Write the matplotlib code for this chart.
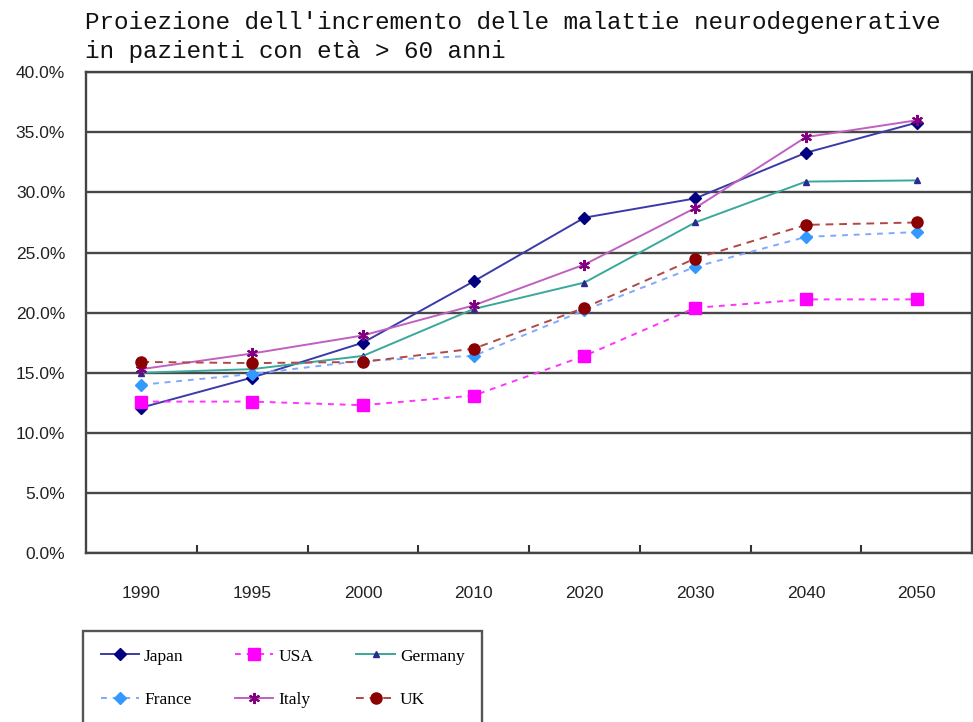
import matplotlib.pyplot as plt
from matplotlib.ticker import FixedLocator, PercentFormatter

years = ['1990', '1995', '2000', '2010', '2020', '2030', '2040', '2050']

japan = [12.1, 14.6, 17.5, 22.6, 27.9, 29.5, 33.3, 35.8]
usa = [12.6, 12.6, 12.3, 13.1, 16.4, 20.4, 21.1, 21.1]
germany = [15.0, 15.3, 16.4, 20.3, 22.5, 27.5, 30.9, 31.0]
france = [14.0, 14.9, 16.0, 16.4, 20.2, 23.8, 26.3, 26.7]
italy = [15.3, 16.6, 18.1, 20.6, 24.0, 28.7, 34.6, 36.0]
uk = [15.9, 15.8, 15.9, 17.0, 20.4, 24.5, 27.3, 27.5]

title = ("Proiezione dell'incremento delle malattie neurodegenerative\n"
         "in pazienti con età > 60 anni")

fig = plt.figure(figsize=(9.73, 7.22), dpi=100)
ax = fig.add_axes([0.0884, 0.234, 0.9106, 0.666])

x = range(len(years))
styles = [
    ('Japan', japan, dict(color='#3a3aa8', ls='-', marker='D', mfc='#000080', mec='#000080', ms=6)),
    ('USA', usa, dict(color='#ff33ff', ls=(0, (3, 3)), marker='s', mfc='#ff00ff', mec='#ff00ff', ms=8)),
    ('Germany', germany, dict(color='#3aa89a', ls='-', marker='^', mfc='#2a2a90', mec='#2a2a90', ms=5)),
    ('France', france, dict(color='#7fa8ff', ls=(0, (3, 3)), marker='D', mfc='#3399ff', mec='#3399ff', ms=6)),
    ('Italy', italy, dict(color='#c060c0', ls='-', marker=(6, 2, 0), mfc='#800080', mec='#800080', ms=8, mew=1.5)),
    ('UK', uk, dict(color='#b04848', ls=(0, (4, 3)), marker='o', mfc='#8b0000', mec='#8b0000', ms=8)),
]
lines = {}
for name, vals, kw in styles:
    lines[name], = ax.plot(x, vals, lw=1.4, label=name, **kw)

ax.set_xlim(-0.5, len(years) - 0.5)
ax.set_ylim(0, 40)
ax.yaxis.set_major_locator(FixedLocator([0, 5, 10, 15, 20, 25, 30, 35, 40]))
ax.yaxis.set_major_formatter(PercentFormatter(decimals=1))
ax.grid(axis='y', color='#484848', lw=1.7)
ax.set_axisbelow(True)

ax.set_xticks(list(x))
ax.set_xticklabels(years)
ax.set_xticks([i + 0.5 for i in range(len(years) - 1)], minor=True)
ax.tick_params(axis='x', which='major', length=0, pad=24)
ax.tick_params(axis='x', which='minor', direction='in', length=6, width=1.5, color='#333333')
ax.tick_params(axis='y', length=0, pad=15)
for lbl in ax.get_xticklabels() + ax.get_yticklabels():
    lbl.set_fontfamily('Liberation Sans')
    lbl.set_fontsize(12.5)
    lbl.set_color('#222222')

for side in ['left', 'bottom', 'right', 'top']:
    ax.spines[side].set_color('#444444')
    ax.spines[side].set_linewidth(1.7)

fig.text(0.087, 0.985, title, family='Liberation Mono', fontsize=17.5,
         va='top', ha='left', linespacing=1.35, color='#111111')

# legend laid out row by row: Japan, USA, Germany / France, Italy, UK
order = ['Japan', 'France', 'USA', 'Italy', 'Germany', 'UK']
leg = fig.legend([lines[n] for n in order], order, ncol=3,
                 loc='upper left', bbox_to_anchor=(0.0855, 0.126),
                 borderaxespad=0,
                 prop={'family': 'Liberation Serif', 'size': 12.5},
                 handlelength=2.2, handletextpad=0.3, columnspacing=2.5,
                 borderpad=1.0, labelspacing=1.55, fancybox=False,
                 edgecolor='#555555', framealpha=1)
leg.get_frame().set_linewidth(1.7)

fig.savefig('out.png', dpi=100)
